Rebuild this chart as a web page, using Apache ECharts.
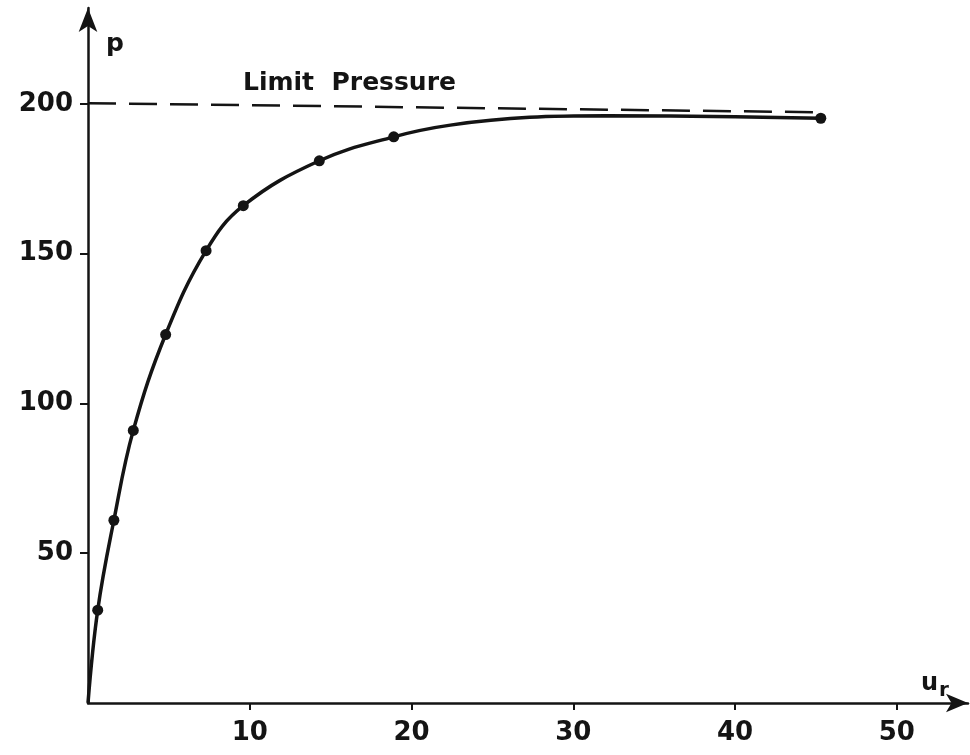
<!DOCTYPE html>
<html>
<head>
<meta charset="utf-8">
<script src="https://cdn.jsdelivr.net/npm/echarts@6/dist/echarts.min.js"></script>
<style>
  html, body { margin: 0; padding: 0; background: #fff; }
  #chart { width: 970px; height: 755px; }
</style>
</head>
<body>
<div id="chart"></div>
<script>
// measured points (u_r, p)
const pointsU = [0.6, 1.6, 2.8, 4.8, 7.3, 9.6, 14.3, 18.9, 45.3]
const pointsP = [31, 61, 91, 123, 151, 166, 181, 189, 195.2]

// fitted curve drawn through the points (extra values)
const curveU = [0, 0.6, 1.6, 2.8, 4.8, 7.3, 9.6, 14.3, 18.9, 22.4, 27.3, 32, 40, 45.3]
const curveP = [0, 31, 61, 91, 123, 151, 166, 181, 189, 192.9, 195.5, 196, 195.7, 195.2]

// limit pressure line (slightly skewed in the scan)
const limitU = [0, 45.3]
const limitP = [200.2, 197.2]

const xTicks = [10, 20, 30, 40, 50]
const yTicks = [50, 100, 150, 200]

const ink = '#141414'
const font = 'DejaVu Sans'

const zip = (a, b) => a.map((v, i) => [v, b[i]])

const chart = echarts.init(document.getElementById('chart'))

chart.setOption({
  animation: false,
  backgroundColor: '#fff',
  grid: { left: 88, right: 2, top: 8, bottom: 52 },
  xAxis: {
    type: 'value',
    min: 0,
    max: 54.4,
    axisLine: {
      onZero: false,
      lineStyle: { color: ink, width: 2.5 },
      symbol: ['none', 'arrow'],
      symbolSize: [14, 22]
    },
    axisTick: {
      customValues: xTicks,
      length: 7,
      lineStyle: { color: ink, width: 2 }
    },
    axisLabel: {
      customValues: xTicks,
      margin: 17,
      color: ink,
      fontFamily: font,
      fontWeight: 'bold',
      fontSize: 26
    },
    splitLine: { show: false }
  },
  yAxis: {
    type: 'value',
    min: 0,
    max: 232,
    axisLine: {
      onZero: false,
      lineStyle: { color: ink, width: 2.5 },
      symbol: ['none', 'arrow'],
      symbolSize: [14, 24]
    },
    axisTick: {
      customValues: yTicks,
      length: 8,
      lineStyle: { color: ink, width: 2 }
    },
    axisLabel: {
      customValues: yTicks,
      margin: 15,
      color: ink,
      fontFamily: font,
      fontWeight: 'bold',
      fontSize: 26
    },
    splitLine: { show: false }
  },
  graphic: [
    {
      type: 'text',
      left: 106,
      top: 32,
      style: { text: 'p', font: 'bold 25px "DejaVu Sans"', fill: ink }
    },
    {
      type: 'text',
      left: 243,
      top: 71,
      style: { text: 'Limit  Pressure', font: 'bold 25px "DejaVu Sans"', fill: ink }
    },
    {
      type: 'text',
      left: 921,
      top: 672,
      style: {
        text: '{u|u}{r|r}',
        rich: {
          u: { font: 'bold 24px "DejaVu Sans"', fill: ink },
          r: { font: 'bold 20px "DejaVu Sans"', fill: ink, padding: [14, 0, 0, 1] }
        }
      }
    }
  ],
  series: [
    {
      name: 'Limit Pressure',
      type: 'line',
      data: zip(limitU, limitP),
      showSymbol: false,
      lineStyle: { color: ink, width: 2.5, type: [28, 13] },
      silent: true
    },
    {
      name: 'curve',
      type: 'line',
      data: zip(curveU, curveP),
      smooth: 0.4,
      showSymbol: false,
      lineStyle: { color: ink, width: 3.5 },
      silent: true
    },
    {
      name: 'points',
      type: 'scatter',
      data: zip(pointsU, pointsP),
      symbol: 'circle',
      symbolSize: 11,
      itemStyle: { color: ink, opacity: 1 }
    }
  ]
})
</script>
</body>
</html>
